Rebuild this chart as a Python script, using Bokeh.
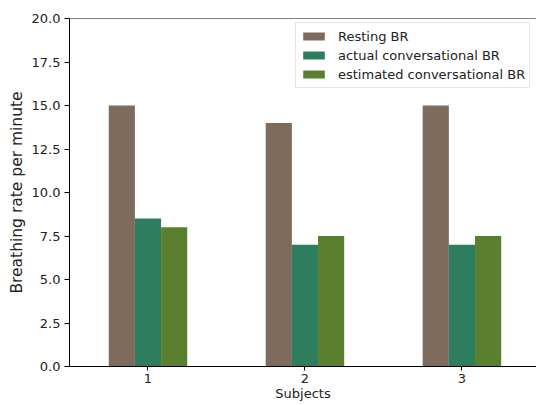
from bokeh.plotting import figure
from bokeh.models import (ColumnDataSource, Legend, LegendItem, Span, FixedTicker,
                          NumeralTickFormatter, Range1d)
from bokeh.transform import dodge
from bokeh.embed import file_html
from bokeh.resources import INLINE

# ---- data ----
subjects = [1, 2, 3]
resting_br = [15, 14, 15]
actual_br = [8.5, 7, 7]
estimated_br = [8, 7.5, 7.5]
series_names = ["Resting BR", "actual conversational BR", "estimated conversational BR"]
y_ticks = [0.0, 2.5, 5.0, 7.5, 10.0, 12.5, 15.0, 17.5, 20.0]
colors = ["#7e6b5c", "#2e7d5e", "#5a7f2f"]

FONT = "DejaVu Sans"

source = ColumnDataSource(dict(subject=subjects, resting=resting_br,
                               actual=actual_br, estimated=estimated_br))

p = figure(width=536, height=405, x_range=Range1d(0.5, 3.475), y_range=Range1d(0, 20),
           output_backend="svg", toolbar_location=None,
           min_border_left=69, min_border_top=18, min_border_right=0, min_border_bottom=39)

bw = 1 / 6
renderers = []
for i, col in enumerate(["resting", "actual", "estimated"]):
    r = p.vbar(x=dodge("subject", (i - 1) * bw), top=col, width=bw, source=source,
               fill_color=colors[i], line_color=None)
    renderers.append(r)

p.xgrid.visible = False
p.ygrid.visible = False
p.outline_line_color = None
p.background_fill_color = "white"
p.border_fill_color = "white"

p.add_layout(Span(location=20, dimension="width", line_color="black", line_width=1))

p.xaxis.ticker = FixedTicker(ticks=subjects)
p.yaxis.ticker = FixedTicker(ticks=y_ticks)
p.yaxis.formatter = NumeralTickFormatter(format="0.0")

for ax in (p.xaxis[0], p.yaxis[0]):
    ax.minor_tick_line_color = None
    ax.major_tick_out = 5
    ax.major_tick_in = 0
    ax.major_label_standoff = 4
    ax.axis_line_color = "black"
    ax.major_tick_line_color = "black"
    ax.major_label_text_font = FONT
    ax.major_label_text_font_size = "13px"
    ax.major_label_text_color = "#222222"
    ax.axis_label_text_font = FONT
    ax.axis_label_text_font_style = "normal"
    ax.axis_label_text_color = "#222222"

p.yaxis.axis_label = "Breathing rate per minute"
p.yaxis.axis_label_text_font_size = "15.5px"
p.yaxis.axis_label_standoff = 3
p.xaxis.axis_label = "Subjects"
p.xaxis.axis_label_text_font_size = "13px"
p.xaxis.axis_label_standoff = 0
p.xaxis.major_tick_out = 4
p.xaxis.major_label_standoff = 3

legend = Legend(items=[LegendItem(label=series_names[i], renderers=[renderers[i]]) for i in range(3)],
                location=(226, 278))
legend.label_text_font = FONT
legend.label_text_font_size = "13px"
legend.label_text_color = "#222222"
legend.glyph_width = 27
legend.glyph_height = 10
legend.label_standoff = 11
legend.label_height = 18
legend.spacing = 1
legend.padding = 4
legend.margin = 0
legend.border_line_color = "#cccccc"
legend.border_line_width = 1
legend.background_fill_alpha = 0.8
p.add_layout(legend, "center")

html = file_html(p, INLINE)
html = html.replace("<head>",
                    "<head><style>html,body{margin:0 !important;padding:0 !important;overflow:hidden;}</style>", 1)
open("out.html", "w").write(html)
